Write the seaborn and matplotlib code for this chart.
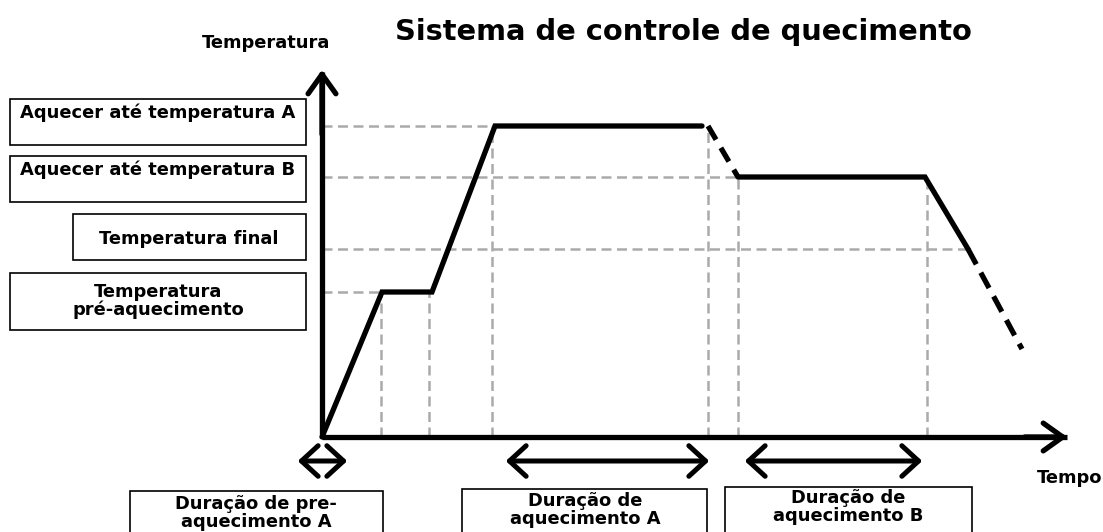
import matplotlib
matplotlib.use("Agg")
import matplotlib.pyplot as plt
import seaborn as sns
import pandas as pd
from matplotlib.patches import Rectangle, FancyArrowPatch

sns.set_theme(style="white")
plt.rcParams['font.family'] = ['DejaVu Sans']

# ---- data (time / temperature in diagram units, origin at axes corner) ----
temp_pre = 145
temp_A = 311
temp_B = 260
temp_final = 188

t_solid1 = [0, 60, 110, 173, 380]
y_solid1 = [0, temp_pre, temp_pre, temp_A, temp_A]
t_dash1 = [386, 416]
y_dash1 = [temp_A, temp_B]
t_solid2 = [416, 603, 646]
y_solid2 = [temp_B, temp_B, temp_final]
t_dash2 = [646, 700]
y_dash2 = [temp_final, 88]

# guide lines: vertical time marks (time, top temperature)
vguide_t = [59, 107, 170, 386, 416, 605]
vguide_top = [temp_pre, temp_pre, temp_A, temp_A, temp_B, temp_B]
# horizontal guides (temperature, end time)
hguide_y = [temp_A, temp_B, temp_final, temp_pre]
hguide_end = [173, 416, 646, 60]

# duration arrows (start, end)
dur_arrows = [(-27, 28), (181, 390), (420, 603)]

title = "Sistema de controle de quecimento"
ylabel = "Temperatura"
xlabel = "Tempo"

ox, oy = 322, 437

fig = plt.figure(figsize=(11.03, 5.32), dpi=100)
ax = fig.add_axes([0, 0, 1, 1])

def P(px, py):
    return px - ox, oy - py

gray = "#aaaaaa"
# guides
for t, top in zip(vguide_t, vguide_top):
    ax.plot([t, t], [0, top], color=gray, lw=1.8, ls=(0, (4, 2.2)), zorder=1)
for yv, end in zip(hguide_y, hguide_end):
    ax.plot([0, end], [yv, yv], color=gray, lw=1.8, ls=(0, (4, 2.2)), zorder=1)

# profile
df1 = pd.DataFrame({"t": t_solid1, "T": y_solid1})
df2 = pd.DataFrame({"t": t_solid2, "T": y_solid2})
sns.lineplot(data=df1, x="t", y="T", sort=False, color="black", lw=3.8, ax=ax, zorder=3,
             solid_joinstyle="miter")
sns.lineplot(data=df2, x="t", y="T", sort=False, color="black", lw=3.8, ax=ax, zorder=3,
             solid_joinstyle="miter")
sns.lineplot(x=t_dash1, y=y_dash1, sort=False, color="black", lw=3.8, ax=ax, zorder=3,
             linestyle=(0, (3, 1.8)))
sns.lineplot(x=t_dash2, y=y_dash2, sort=False, color="black", lw=3.8, ax=ax, zorder=3,
             linestyle=(0, (3.3, 1.8)))
ax.set_xlim(-ox, 1103 - ox)
ax.set_ylim(oy - 532, oy)
ax.axis("off")

# axes arrows
ax.plot([0, 0], [0, 365], color="black", lw=3.8, zorder=4, solid_capstyle="butt")
ax.plot([0, 745], [0, 0], color="black", lw=3.8, zorder=4, solid_capstyle="butt")
for start, end in [((0, 300), (0, oy - 67)), ((700, 0), (1070 - ox, 0))]:
    ax.add_patch(FancyArrowPatch(start, end, arrowstyle="->,head_length=0.7,head_width=0.5",
                                 mutation_scale=20, lw=3.8, color="black", zorder=4,
                                 joinstyle="round", capstyle="round"))

# duration arrows
dy = oy - 461
for a, b in dur_arrows:
    ax.add_patch(FancyArrowPatch((a, dy), (b, dy), arrowstyle="<->,head_length=0.6,head_width=0.55",
                                 mutation_scale=20, lw=3.6, color="black", zorder=4,
                                 joinstyle="round", capstyle="round"))

# boxes
def box(x0, y0, x1, y1):
    xa, ya = P(x0, y1)
    ax.add_patch(Rectangle((xa, ya), x1 - x0, y1 - y0, fill=True, facecolor="white",
                           edgecolor="black", lw=1.2, zorder=5))

fs = 12.85
tk = dict(fontsize=fs, fontweight="bold", color="black", ha="center", va="center", zorder=6)

box(10, 99, 306, 145)
ax.text(*P(158, 113), "Aquecer até temperatura A", **tk)
box(10, 156, 306, 202)
ax.text(*P(158, 170), "Aquecer até temperatura B", **tk)
box(73, 214, 306, 260)
ax.text(*P(189, 239), "Temperatura final", **tk)
box(10, 273, 306, 330)
ax.text(*P(158, 301), "Temperatura\npré-aquecimento", linespacing=1.02, **tk)

box(130, 491, 383, 545)
ax.text(*P(256, 513), "Duração de pre-\naquecimento A", linespacing=0.97, **tk)
box(462, 489, 707, 545)
ax.text(*P(585, 510), "Duração de\naquecimento A", linespacing=0.97, **tk)
box(725, 487, 972, 545)
ax.text(*P(848, 507), "Duração de\naquecimento B", linespacing=0.97, **tk)

ax.text(*P(266, 43), ylabel, **tk)
ax.text(*P(1070, 478), xlabel, **tk)
ax.text(*P(683, 32), title, fontsize=20.8, fontweight="bold", color="black",
        ha="center", va="center")

fig.savefig("out.png", dpi=100)
